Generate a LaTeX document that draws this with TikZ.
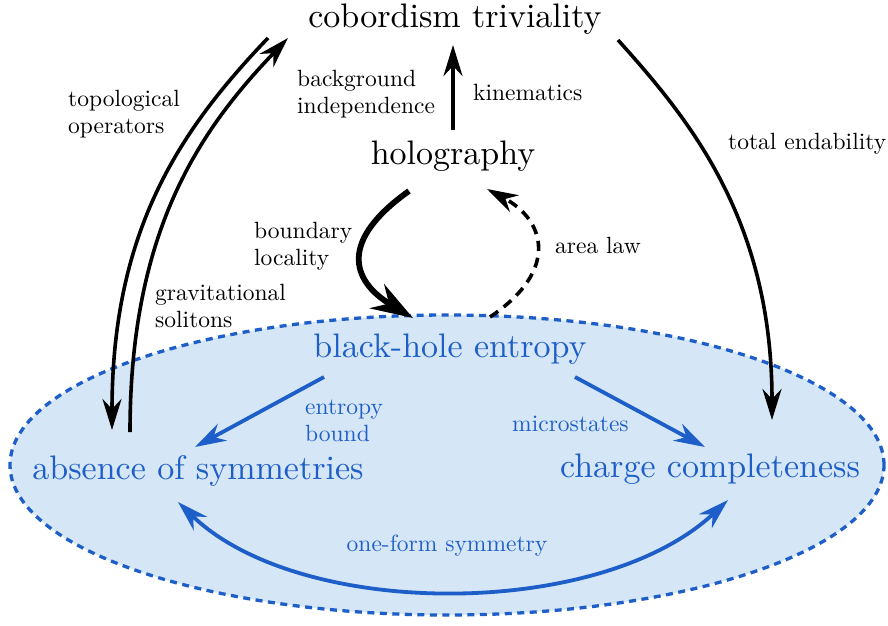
\documentclass[tikz,border=0pt]{standalone}
\usepackage{fontspec}
\setmainfont{lmroman10-regular}[Extension=.otf]
\usetikzlibrary{arrows.meta,calc}
\definecolor{myblue}{RGB}{30,94,200}
\definecolor{myfill}{RGB}{213,230,246}
\begin{document}
\begin{tikzpicture}[x=1pt,y=-1pt,
  big/.style={font=\fontsize{34}{40}\selectfont, inner sep=0pt},
  lab/.style={font=\fontsize{23.5}{27}\selectfont, inner sep=0pt, align=left},
  tip/.style={-{Stealth[length=31pt,width=19pt,inset=10pt]}},
  arr/.style={line width=3.6pt, tip},
  thickarr/.style={line width=5.8pt, -{Stealth[length=42pt,width=28pt,inset=14pt]}},
  bluearr/.style={line width=3.8pt, myblue, -{Stealth[length=31pt,width=19pt,inset=10pt]}},
  bluedbl/.style={line width=3.8pt, myblue, {Stealth[length=31pt,width=19pt,inset=10pt]}-{Stealth[length=31pt,width=19pt,inset=10pt]}}
]
\useasboundingbox (0,0) rectangle (888,625);
\fill[myfill] (447,465) ellipse [x radius=437pt, y radius=150pt];
\draw[myblue, line width=3.3pt, dash pattern=on 7pt off 5.5pt] (447,465) ellipse [x radius=437pt, y radius=150pt];

\node[big] (cob) at (455,19) {cobordism triviality};
\node[big] (holo) at (453,156) {holography};
\node[big,text=myblue] (bhe) at (450,349) {black-hole entropy};
\node[big,text=myblue] (abs) at (198,471) {absence of symmetries};
\node[big,text=myblue] (cc) at (710,469) {charge completeness};

\node[lab,anchor=west] (l1) at (68,114) {topological\\operators};
\node[lab,anchor=west] (l2) at (297,94) {background\\independence};
\node[lab,anchor=west] (l3) at (473,92) {kinematics};
\node[lab,anchor=west] (l4) at (728,144) {total endability};
\node[lab,anchor=west] (l5) at (254,246) {boundary\\locality};
\node[lab,anchor=west] (l6) at (555,245) {area law};
\node[lab,anchor=west] (l7) at (155,306) {gravitational\\solitons};
\node[lab,anchor=west,text=myblue] (l8) at (305,421) {entropy\\bound};
\node[lab,anchor=west,text=myblue] (l9) at (512,424) {microstates};
\node[lab,text=myblue] (l10) at (447,546) {one-form symmetry};

% holography -> cobordism
\draw[arr] ($(holo)+(0,-26)$) -- ($(cob)+(-2,26)$);
% cobordism -> absence (outer)
\draw[arr] ($(cob)+(-187,19)$) .. controls (180,130) and (112,230) .. ($(abs)+(-86,-41)$);
% absence -> cobordism (inner)
\draw[arr] ($(abs)+(-68,-39)$) .. controls (130,230) and (200,130) .. ($(cob)+(-167,19)$);
% cobordism -> charge
\draw[arr] ($(cob)+(163,21)$) .. controls (690,120) and (772,220) .. ($(cc)+(62,-49)$);
% holography -> black-hole entropy
\draw[thickarr] ($(holo)+(-44,35)$) .. controls (340,240) and (350,280) .. ($(bhe)+(-37,-31)$);
% black-hole entropy -> holography (dashed)
\draw[line width=3.6pt, tip, dash pattern=on 10pt off 7pt] ($(bhe)+(40,-32)$) .. controls (560,270) and (545,220) .. ($(holo)+(34,33)$);
% blue arrows
\draw[bluearr] ($(bhe)+(-126,28)$) -- ($(abs)+(-3,-24)$);
\draw[bluearr] ($(bhe)+(125,28)$) -- ($(cc)+(-5,-22)$);
\draw[bluedbl] ($(abs)+(-20,31)$) .. controls (300,620) and (600,620) .. ($(cc)+(18,31)$);
\end{tikzpicture}
\end{document}
